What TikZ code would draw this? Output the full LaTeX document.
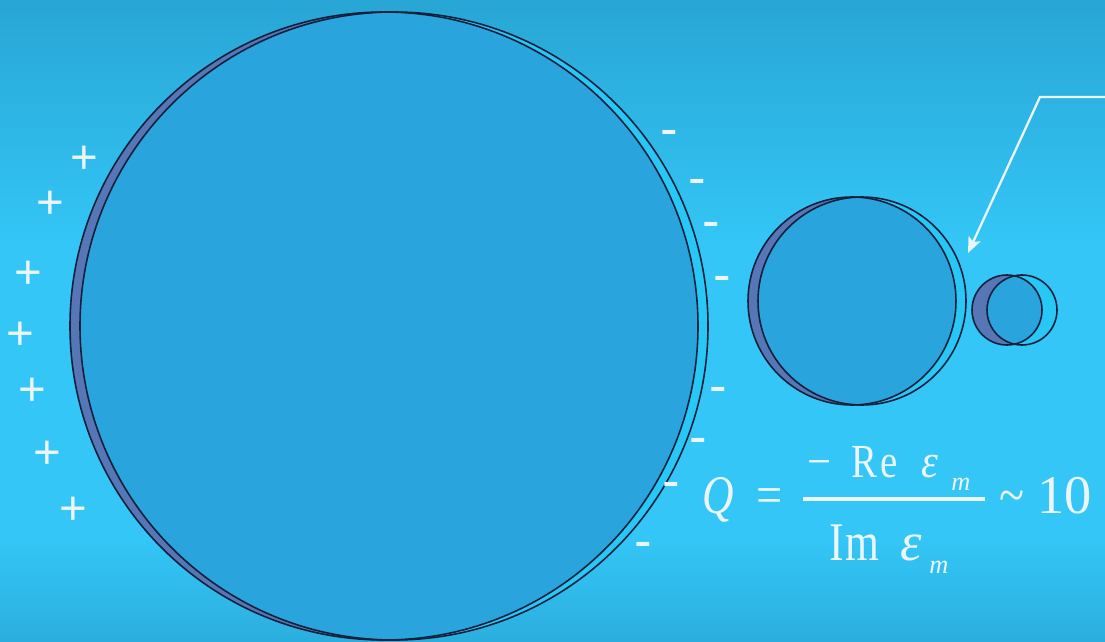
\documentclass[tikz,border=0pt]{standalone}
\usepackage{fontspec}
\setmainfont{Liberation Serif}
\newfontfamily\eqfont{Liberation Serif}
\newfontfamily\signfont{Liberation Sans}
\usetikzlibrary{arrows.meta}

\definecolor{bgtop}{RGB}{40,166,213}
\definecolor{bgmid}{RGB}{51,198,246}
\definecolor{bgbot}{RGB}{43,174,222}
\definecolor{lensfill}{RGB}{42,164,220}
\definecolor{shadowside}{RGB}{86,118,182}
\definecolor{lightside}{RGB}{40,200,246}
\definecolor{rimline}{RGB}{18,32,60}
\definecolor{chalk}{RGB}{236,246,250}

% backdrop: darker at the top, bright band through the middle
% (the 25bp--75bp span of the shading covers the path)
\pgfdeclareverticalshading{backdrop}{100bp}{%
  color(0bp)=(bgbot); color(25bp)=(bgbot); color(33bp)=(bgmid);
  color(56bp)=(bgmid); color(75bp)=(bgtop); color(100bp)=(bgtop)}

\newcommand\cond[2]{\scalebox{#1}[1]{#2}}

% one particle: left (shadow) centre x, right (lit) centre x, centre y, radius (px)
\newcommand\particle[4]{%
  \fill[shadowside] (#1,#3) circle[radius=#4*0.02cm];
  \fill[lightside]  (#2,#3) circle[radius=#4*0.02cm];
  \begin{scope}
    \clip (#1,#3) circle[radius=#4*0.02cm];
    \fill[lensfill] (#2,#3) circle[radius=#4*0.02cm];
  \end{scope}
  \draw[rim] (#1,#3) circle[radius=#4*0.02cm];
  \draw[rim] (#2,#3) circle[radius=#4*0.02cm];
}

\tikzset{
  rim/.style={draw=rimline, line width=0.9pt},
  plussign/.style={text=chalk, inner sep=0pt, anchor=base,
    font=\signfont\fontsize{27}{27}\selectfont, yshift=-9.4pt},
  minussign/.style={text=chalk, inner sep=0pt, anchor=base,
    font=\signfont\fontsize{30}{30}\selectfont, yshift=-8.4pt},
  eq/.style={text=chalk, inner sep=0pt, anchor=base west,
    font=\eqfont\fontsize{31}{31}\selectfont},
  eqnum/.style={eq, font=\eqfont\fontsize{27}{27}\selectfont},
  eqsub/.style={eq, font=\eqfont\fontsize{15}{15}\selectfont\itshape},
  pointer/.style={draw=chalk, line width=1.3pt,
    -{Stealth[length=9pt, width=7.5pt, inset=2pt]}},
}

\begin{document}
\begin{tikzpicture}[x=0.02cm, y=-0.02cm]
  \useasboundingbox (0,0) rectangle (1105,642);
  \clip (0,0) rectangle (1105,642);
  \shade[shading=backdrop] (0,0) rectangle (1105,642);

  % particles, largest to smallest
  \particle{384}{394}{326}{314}
  \particle{852}{862}{301}{104}
  \particle{1007}{1022}{310}{35}

  % induced charges
  \node[plussign] (p1) at (84,157) {+};
  \node[plussign] (p2) at (50,202) {+};
  \node[plussign] (p3) at (28,272) {+};
  \node[plussign] (p4) at (20,333) {+};
  \node[plussign] (p5) at (32,389) {+};
  \node[plussign] (p6) at (47,452) {+};
  \node[plussign] (p7) at (73,508) {+};

  \node[minussign] (m1) at (669,132) {-};
  \node[minussign] (m2) at (697,181) {-};
  \node[minussign] (m3) at (711,224) {-};
  \node[minussign] (m4) at (722,278) {-};
  \node[minussign] (m5) at (718,389) {-};
  \node[minussign] (m6) at (698,440) {-};
  \node[minussign] (m7) at (671,484) {-};
  \node[minussign] (m8) at (643,544) {-};

  % pointer to the gap between the particles
  \coordinate (lead) at (1112,97);
  \coordinate (bend) at (1040,97);
  \coordinate (tip)  at (968,253);
  \draw[pointer] (lead) -- (bend) -- (tip);

  % quality factor
  \node[eq] (qsym) at (702,513) {\cond{0.8}{\itshape Q}};
  \node[eq] (qeq)  at (756,513) {\cond{0.85}{=}};
  \draw[chalk, line width=2.2pt] (803,499) -- (985,499);
  \node[eqnum] (nminus) at (807,477) {\cond{0.9}{−}};
  \node[eqnum] (nre)    at (851,477) {\cond{0.82}{R\kern2pt e}};
  \node[eqnum] (neps)   at (921,477) {\cond{0.9}{\itshape ε}};
  \node[eqsub] (nsub)   at (951,490) {m};
  \node[eq]    (dim)    at (829,560) {\cond{0.8}{I\kern1pt m}};
  \node[eq]    (deps)   at (900,560) {\itshape ε};
  \node[eqsub] (dsub)   at (929,573) {m};
  \node[eq]    (tilde)  at (999,513) {\cond{0.85}{\textasciitilde}};
  \node[eq]    (ten)    at (1037,513) {10};
\end{tikzpicture}
\end{document}
